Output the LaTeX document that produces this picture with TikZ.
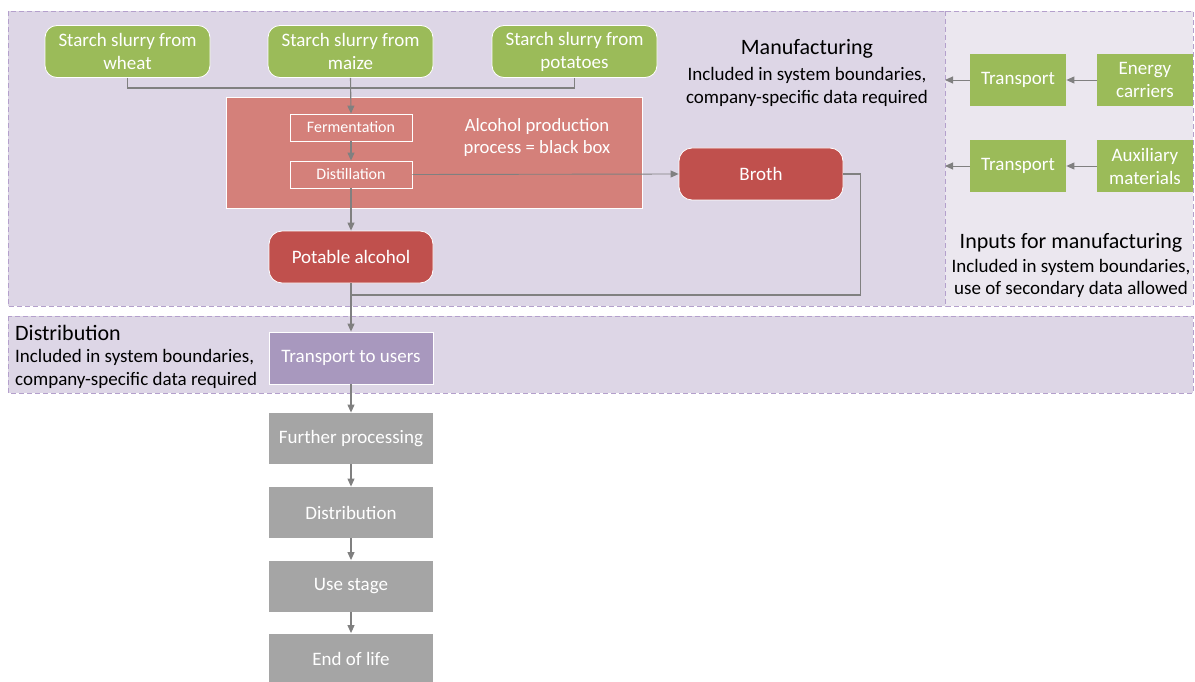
\documentclass[tikz,border=0pt]{standalone}
\usepackage{fontspec}
\setmainfont{Carlito}
\usetikzlibrary{arrows.meta}
\definecolor{bandfill}{HTML}{DDD6E6}
\definecolor{inputfill}{HTML}{EBE7EF}
\definecolor{bandline}{HTML}{B4A0CC}
\definecolor{slurry}{HTML}{9BBB59}
\definecolor{blackbox}{HTML}{D4807A}
\definecolor{product}{HTML}{C0504D}
\definecolor{distfill}{HTML}{A898BE}
\definecolor{later}{HTML}{A5A5A5}
\definecolor{conn}{HTML}{808080}
\tikzset{
  band/.style={draw=bandline, dashed, line width=0.8pt, dash pattern=on 5pt off 3pt},
  boxbase/.style={draw=white, line width=0.8pt, text=white, align=center, inner sep=0pt,
    font=\fontsize{19}{23}\selectfont},
  slurrybox/.style={boxbase, fill=slurry, rounded corners=12pt, minimum width=165pt, minimum height=52pt},
  inputbox/.style={boxbase, fill=slurry, draw=none, minimum width=96pt, minimum height=52pt},
  prodbox/.style={boxbase, fill=product, rounded corners=13pt, minimum width=164pt, minimum height=52pt},
  stepbox/.style={boxbase, draw=white, fill=blackbox, minimum width=122pt, minimum height=27pt,
    font=\fontsize{16}{18}\selectfont},
  stagebox/.style={boxbase, draw=none, fill=later, minimum width=164pt, minimum height=51pt},
  line/.style={draw=conn, line width=1.1pt},
  arr/.style={line, -{Triangle[length=8pt,width=7pt]}},
  thinarr/.style={draw=conn, line width=0.9pt, -{Triangle[length=8pt,width=7pt]}},
  heading/.style={font=\fontsize{22}{26}\selectfont, text=black, inner sep=0pt},
  note/.style={font=\fontsize{19}{22}\selectfont, text=black, inner sep=0pt},
}
\begin{document}
\begin{tikzpicture}[x=1pt,y=-1pt]
\useasboundingbox (0,0) rectangle (1195,682);

% system boundary bands
\filldraw[band, fill=bandfill] (8,11) rectangle (945,306);
\filldraw[band, fill=inputfill] (945,11) rectangle (1193,306);
\filldraw[band, fill=bandfill] (8,316) rectangle (1193,393);

% raw materials
\node[slurrybox] (wheat) at (127.5,51.5) {Starch slurry from\\wheat};
\node[slurrybox] (maize) at (350.5,51.5) {Starch slurry from\\maize};
\node[slurrybox] (potato) at (574.5,51.5) {Starch slurry from\\potatoes};

% black-box alcohol production
\node[boxbase, fill=blackbox, minimum width=416pt, minimum height=111pt] (process) at (434,152.5) {};
\node[boxbase, draw=none, font=\fontsize{18.7}{21.5}\selectfont] (proclabel) at (537,137.5) {Alcohol production\\process = black box};
\node[stepbox] (ferm) at (351,127.5) {Fermentation};
\node[stepbox] (dist) at (351,174.5) {Distillation};

% products
\node[prodbox] (broth) at (761,174) {Broth};
\node[prodbox] (potable) at (351,257) {Potable alcohol};

% manufacturing caption
\node[heading] (mfgtitle) at (807,49) {Manufacturing};
\node[note] (mfgnote1) at (807,75) {Included in system boundaries,};
\node[note] (mfgnote2) at (807,98) {company-specific data required};

% inputs for manufacturing
\node[inputbox] (tr1) at (1018,80) {Transport};
\node[inputbox] (energy) at (1145,80) {Energy\\carriers};
\node[inputbox] (tr2) at (1018,166) {Transport};
\node[inputbox] (aux) at (1145,166) {Auxiliary\\materials};
\node[heading] (intitle) at (1071,243) {Inputs for manufacturing};
\node[note] (innote1) at (1071,267) {Included in system boundaries,};
\node[note] (innote2) at (1071,289) {use of secondary data allowed};

% distribution band
\node[boxbase, draw=white, fill=distfill, minimum width=164pt, minimum height=52pt] (tusers) at (351,358) {Transport to users};
\node[heading, anchor=west] (disttitle) at (15,333) {Distribution};
\node[note, anchor=west] (distnote1) at (15,357) {Included in system boundaries,};
\node[note, anchor=west] (distnote2) at (15,380) {company-specific data required};

% later life-cycle stages
\node[stagebox] (further) at (351,438.5) {Further processing};
\node[stagebox] (distrib) at (351,512.5) {Distribution};
\node[stagebox] (use) at (351,586) {Use stage};
\node[stagebox] (eol) at (351,659) {End of life};

% connectors
\coordinate (merge) at (351,88);
\coordinate (join) at (351,295);
\coordinate (edge1) at (945,80);
\coordinate (edge2) at (945,166);
\draw[line] (wheat.south) |- (merge);
\draw[line] (potato.south) |- (merge);
\draw[arr] (maize.south) -- (ferm.north);
\draw[arr] (ferm.south) -- (dist.north);
\draw[thinarr] (dist.east) -- (broth.west);
\draw[arr] (dist.south) -- (potable.north);
\draw[line] (broth.east) -- ++(17,0) |- (join);
\draw[arr] (potable.south) -- (tusers.north);
\draw[arr] (tusers.south) -- (further.north);
\draw[arr] (further.south) -- (distrib.north);
\draw[arr] (distrib.south) -- (use.north);
\draw[arr] (use.south) -- (eol.north);
\draw[thinarr] (energy.west) -- (tr1.east);
\draw[thinarr] (tr1.west) -- (edge1);
\draw[thinarr] (aux.west) -- (tr2.east);
\draw[thinarr] (tr2.west) -- (edge2);
\end{tikzpicture}
\end{document}
